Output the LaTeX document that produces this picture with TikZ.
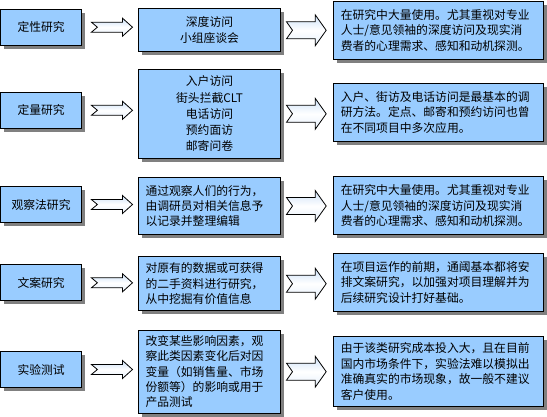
\documentclass[tikz,border=0pt]{standalone}
\usepackage{fontspec}
\setmainfont{Noto Sans CJK SC}
\usetikzlibrary{calc,shadows}
\definecolor{boxblue}{RGB}{153,204,255}
\definecolor{shadowgray}{RGB}{128,128,128}
\definecolor{arrowblue}{RGB}{205,225,248}
\tikzset{
  base/.style={draw=black, line width=1pt, fill=boxblue,
    drop shadow={shadow xshift=3.5pt, shadow yshift=-3.5pt, fill=shadowgray, opacity=1},
    inner sep=0pt},
  leftbox/.style={base, minimum width=81pt, minimum height=36pt, align=center,
    font=\fontsize{11.8}{16}\selectfont},
  midc/.style={base, minimum width=142.4pt, align=center,
    font=\fontsize{11.8}{16.2}\selectfont},
  midl/.style={base, minimum width=142.4pt, text width=128pt, align=left,
    font=\fontsize{11.8}{15.3}\selectfont},
  rightbox/.style={base, minimum width=210pt, minimum height=58.3pt, text width=195pt, align=left,
    font=\fontsize{11.8}{15.6}\selectfont},
  arrowbody/.style={draw=black, line width=0.8pt, top color=arrowblue,
    bottom color=arrowblue!50!white, middle color=white},
}
% #1 from node, #2 to node, #3 start gap, #4 end gap, #5 half shaft, #6 half head, #7 head length
\newcommand\fatarr[7]{%
  \path[arrowbody] let \p1=([xshift=#3]#1.east), \p2=([xshift=-#4]#2.west) in
    (\x1,\y1+#5) -- (\x2-#7,\y1+#5) -- (\x2-#7,\y1+#6) -- (\x2,\y1)
    -- (\x2-#7,\y1-#6) -- (\x2-#7,\y1-#5) -- (\x1,\y1-#5) -- (\x1+6pt,\y1) -- cycle;
}
\begin{document}
\begin{tikzpicture}[x=1pt,y=-1pt]
\useasboundingbox (0,0) rectangle (547,417);

% left boxes
\node[leftbox] (L1) at (41.1,27.2) {定性研究};
\node[leftbox] (L2) at (41.1,110.3) {定量研究};
\node[leftbox] (L3) at (41.1,204.5) {观察法研究};
\node[leftbox] (L4) at (41.1,282.8) {文案研究};
\node[leftbox] (L5) at (41.1,369.5) {实验测试};

% middle boxes
\node[midc, minimum height=42.7pt] (M1) at (209.5,30.3) {深度访问\\小组座谈会};
\node[midc, minimum height=89pt] (M2) at (209.5,113.8) {入户访问\\街头拦截CLT\\电话访问\\预约面访\\邮寄问卷};
\node[midl, minimum height=56.6pt] (M3) at (209.5,206) {通过观察人们的行为，\\由调研员对相关信息予\\以记录并整理编辑};
\node[midl, minimum height=54pt] (M4) at (209.5,283.7) {对原有的数据或可获得\\的二手资料进行研究，\\从中挖掘有价值信息};
\node[midl, minimum height=83.3pt] (M5) at (209.5,371.7) {改变某些影响因素，观\\察此类因素变化后对因\\变量（如销售量、市场\\份额等）的影响或用于\\产品测试};

% right boxes
\node[rightbox] (R1) at (438.3,30.2) {在研究中大量使用。尤其重视对专业\\人士/意见领袖的深度访问及现实消\\费者的心理需求、感知和动机探测。};
\node[rightbox] (R2) at (438.3,112.5) {入户、街访及电话访问是最基本的调\\研方法。定点、邮寄和预约访问也曾\\在不同项目中多次应用。};
\node[rightbox] (R3) at (438.3,205.8) {在研究中大量使用。尤其重视对专业\\人士/意见领袖的深度访问及现实消\\费者的心理需求、感知和动机探测。};
\node[rightbox] (R4) at (438.3,282.5) {在项目运作的前期，通阈基本都将安\\排文案研究，以加强对项目理解并为\\后续研究设计打好基础。};
\node[rightbox, minimum height=70pt] (R5) at (438.3,371.7) {由于该类研究成本投入大，且在目前\\国内市场条件下，实验法难以模拟出\\准确真实的市场现象，故一般不建议\\客户使用。};

% arrows
\foreach \i in {1,...,5}{
  \fatarr{L\i}{M\i}{9.3pt}{5.3pt}{5pt}{9pt}{10pt}
  \fatarr{M\i}{R\i}{5.3pt}{6.6pt}{8.5pt}{15.5pt}{11pt}
}
\end{tikzpicture}
\end{document}
